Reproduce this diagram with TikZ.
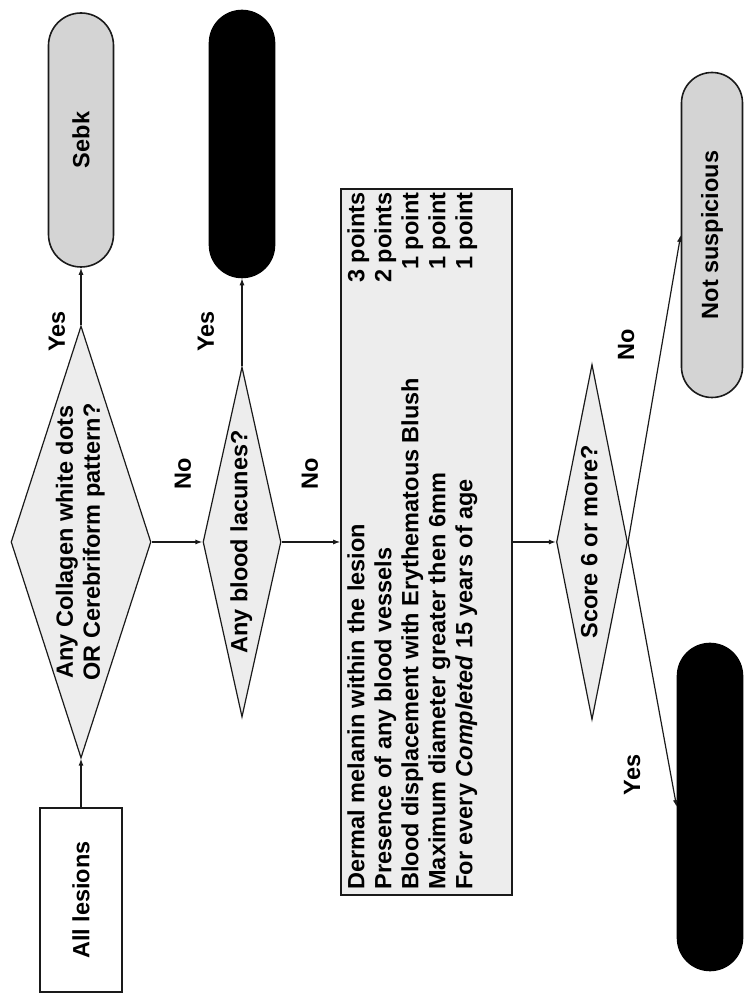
\documentclass[tikz,border=0pt]{standalone}
\usepackage{fontspec}
\setmainfont{Liberation Sans}
\usetikzlibrary{arrows.meta,shapes.geometric,shapes.misc,calc}
\definecolor{rand}{HTML}{1A1A1A}
\definecolor{hgrau}{HTML}{EDEDED}
\definecolor{mgrau}{HTML}{D4D4D4}
\tikzset{
  every node/.style={font=\fontsize{23.5}{27}\selectfont\bfseries},
  pfeil/.style={-{Latex[length=7pt,width=5pt]},rand,line width=1.2pt},
  frage/.style={diamond,draw=rand,fill=hgrau,line width=1.2pt,inner sep=0pt,shape aspect=3},
  kasten/.style={rectangle,draw=rand,line width=1.6pt,inner sep=0pt},
  kapsel/.style={rounded rectangle,draw=rand,fill=mgrau,line width=1.6pt,inner sep=0pt},
  dunkel/.style={kapsel,fill=black,draw=black},
  beschr/.style={inner sep=0pt},
}
\newcommand{\zeilen}[1]{\makebox[0pt]{\begin{tabular}{@{}c@{}}#1\end{tabular}}}

\begin{document}
\begin{tikzpicture}[x=1pt,y=1pt]
  \begin{scope}[rotate=90,transform shape]
    \useasboundingbox (0,-750) rectangle (1002,0);
    \node[kasten,fill=white,minimum width=184pt,minimum height=82pt] (alle) at (102,-81) {All lesions};
    \node[frage,minimum width=432pt,minimum height=140pt] (f1) at (460,-81) {\zeilen{Any Collagen white dots\\OR Cerebriform pattern?}};
    \node[kapsel,minimum width=254pt,minimum height=65pt] (sebk) at (862,-81) {Sebk};
    \node[frage,minimum width=350pt,minimum height=78pt] (f2) at (460,-242) {\zeilen{Any blood lacunes?}};
    \node[dunkel,minimum width=267pt,minimum height=65pt] (lac) at (858,-242) {};
    % score table
    \node[kasten,fill=hgrau,minimum width=706pt,minimum height=171pt] (krit) at (460,-426.5) {};
    \node[beschr,anchor=north west] (liste) at ($(krit.north west)+(6,-5)$) {%
      \begin{tabular*}{697pt}{@{}l@{\extracolsep{\fill}}r@{}}
        Dermal melanin within the lesion & 3 points\\
        Presence of any blood vessels & 2 points\\
        Blood displacement with Erythematous Blush & 1 point\\
        Maximum diameter greater then 6mm & 1 point\\
        For every \textit{Completed} 15 years of age & 1 point
      \end{tabular*}};
    \node[frage,minimum width=355pt,minimum height=71pt] (f3) at (460,-592) {\zeilen{Score 6 or more?}};
    \node[kapsel,minimum width=325pt,minimum height=61pt] (nicht) at (767,-712) {Not suspicious};
    \node[dunkel,minimum width=327pt,minimum height=65pt] (ja) at (195,-710) {};
    % arrows
    \draw[pfeil] (alle) -- (f1);
    \draw[pfeil] (f1) -- (sebk);
    \draw[pfeil] (f1) -- (f2);
    \draw[pfeil] (f2) -- (lac);
    \draw[pfeil] (f2) -- (krit);
    \draw[pfeil] (krit) -- (f3);
    \draw[pfeil] (f3.south) -- (nicht.north);
    \draw[pfeil] (f3.south) -- (ja.north);
    % labels
    \node[beschr] (ja1) at ($(f1.east)+(-6,24)$) {Yes};
    \node[beschr] (ja2) at ($(f2.east)+(35,36)$) {Yes};
    \node[beschr] (nein1) at ($(f1.south)!.5!(f2.north)+(68,-6)$) {No};
    \node[beschr] (nein2) at ($(f2.south)!.5!(krit.north)+(68,1)$) {No};
    \node[beschr] (nein3) at ($(f3.south)+(197,2)$) {No};
    \node[beschr] (ja3) at ($(f3.south)+(-233,-4)$) {Yes};
  \end{scope}
\end{tikzpicture}
\end{document}
